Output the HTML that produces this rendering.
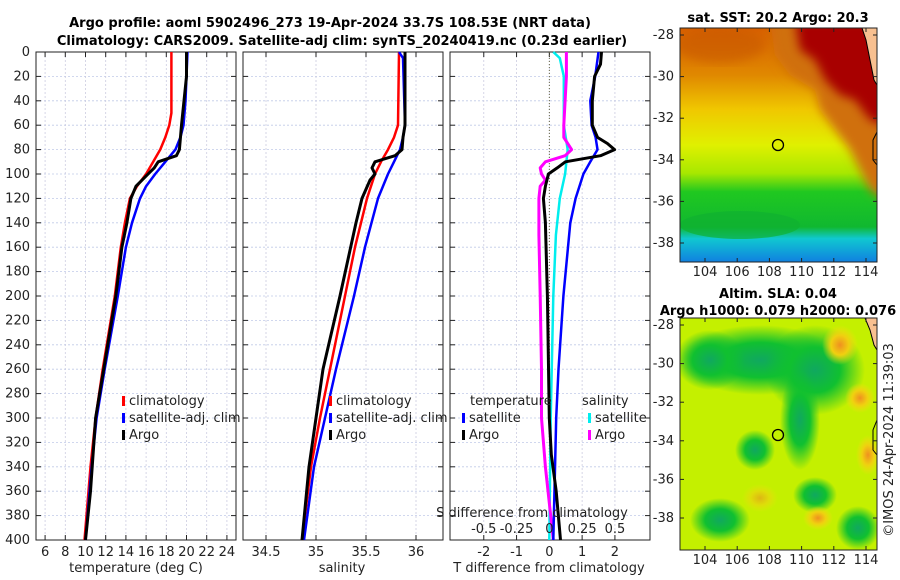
<!DOCTYPE html>
<html><head><meta charset="utf-8">
<style>
body{margin:0;background:#fff;width:900px;height:580px;overflow:hidden;font-family:"DejaVu Sans","Liberation Sans",sans-serif}
svg{display:block}
text{font-family:"DejaVu Sans","Liberation Sans",sans-serif;font-size:13px;fill:#222}
.t{font-weight:bold;font-size:13px;fill:#000}
</style></head><body>
<svg id="s" width="900" height="580">
<defs>
<linearGradient id="sstg" x1="0" y1="0" x2="0" y2="1">
<stop offset="0" stop-color="#d86000"/><stop offset="0.2" stop-color="#e08800"/><stop offset="0.35" stop-color="#f0c800"/><stop offset="0.5" stop-color="#e0f000"/><stop offset="0.62" stop-color="#a8e800"/><stop offset="0.7" stop-color="#20c820"/><stop offset="0.85" stop-color="#10b830"/><stop offset="0.9" stop-color="#10c8d0"/><stop offset="1" stop-color="#1080e0"/></linearGradient>
<radialGradient id="gb"><stop offset="0" stop-color="#10a860"/><stop offset="0.5" stop-color="#10c030"/><stop offset="1" stop-color="#10c030" stop-opacity="0"/></radialGradient>
<radialGradient id="ob"><stop offset="0" stop-color="#f09020"/><stop offset="0.5" stop-color="#f0d010"/><stop offset="1" stop-color="#f0e010" stop-opacity="0"/></radialGradient>
<filter id="bl"><feGaussianBlur stdDeviation="5"/></filter>
<clipPath id="c1"><rect x="680" y="28" width="197" height="234"/></clipPath>
<clipPath id="c2"><rect x="680" y="318" width="197" height="232"/></clipPath>
</defs>
<text class="t" x="330" y="27" text-anchor="middle">Argo profile: aoml 5902496_273 19-Apr-2024 33.7S 108.53E (NRT data)</text>
<text class="t" x="342" y="45" text-anchor="middle">Climatology: CARS2009. Satellite-adj clim: synTS_20240419.nc (0.23d earlier)</text>
<g id="panels"></g>
<g>
<text class="t" x="778" y="22" text-anchor="middle">sat. SST: 20.2 Argo: 20.3</text>
<g clip-path="url(#c1)">
<rect x="680" y="28" width="197" height="234" fill="url(#sstg)"/>
<path d="M770,20 L900,20 L900,210 L870,190 L850,150 L835,130 L820,110 L815,90 L790,75 L775,55 Z" fill="#d07010" filter="url(#bl)"/>
<path d="M795,20 L900,20 L900,130 L870,120 L855,100 L840,95 L825,80 L815,60 L800,50 Z" fill="#a80000" filter="url(#bl)"/>
<ellipse cx="720" cy="45" rx="45" ry="18" fill="#c85800" opacity="0.6" filter="url(#bl)"/>
<ellipse cx="740" cy="225" rx="60" ry="14" fill="#10b030" opacity="0.7"/>
<path d="M862,28 L866,40 L870,60 L874,80 L877,85 L877,28 Z" fill="#f8c090"/>
<path d="M862,28 L866,40 L870,60 L874,80 L877,85" fill="none" stroke="#000"/>
<path d="M877,132 L873,140 L873,160 L877,165" fill="none" stroke="#000"/>
</g>
<rect x="680" y="28" width="197" height="234" fill="none" stroke="#222"/>
<circle cx="778" cy="145" r="5.5" fill="none" stroke="#000" stroke-width="1.3"/>
</g>
<g>
<text class="t" x="778" y="298" text-anchor="middle">Altim. SLA: 0.04</text>
<text class="t" x="778" y="315" text-anchor="middle">Argo h1000: 0.079 h2000: 0.076</text>
<g clip-path="url(#c2)">
<rect x="680" y="318" width="197" height="232" fill="#c4f000"/>
<ellipse cx="760" cy="360" rx="80" ry="35" fill="url(#gb)"/>
<ellipse cx="710" cy="360" rx="35" ry="30" fill="url(#gb)"/>
<ellipse cx="815" cy="370" rx="50" ry="45" fill="url(#gb)"/>
<ellipse cx="800" cy="420" rx="20" ry="50" fill="url(#gb)"/>
<ellipse cx="755" cy="450" rx="20" ry="20" fill="url(#gb)"/>
<ellipse cx="815" cy="495" rx="22" ry="18" fill="url(#gb)"/>
<ellipse cx="720" cy="520" rx="30" ry="22" fill="url(#gb)"/>
<ellipse cx="858" cy="528" rx="22" ry="22" fill="url(#gb)"/>
<ellipse cx="840" cy="345" rx="18" ry="20" fill="url(#ob)"/>
<ellipse cx="860" cy="398" rx="15" ry="15" fill="url(#ob)"/>
<ellipse cx="818" cy="518" rx="15" ry="12" fill="url(#ob)"/>
<ellipse cx="760" cy="498" rx="18" ry="14" fill="url(#ob)" opacity="0.6"/>
<ellipse cx="868" cy="455" rx="12" ry="20" fill="url(#ob)"/>
<path d="M865,318 L870,330 L874,345 L877,350 L877,318 Z" fill="#f8c090"/>
<path d="M865,318 L870,330 L874,345 L877,350" fill="none" stroke="#000"/>
<path d="M877,420 L873,430 L873,450 L877,455" fill="none" stroke="#000"/>
</g>
<rect x="680" y="318" width="197" height="232" fill="none" stroke="#222"/>
<circle cx="778" cy="435" r="5.5" fill="none" stroke="#000" stroke-width="1.3"/>
</g>
<g id="maxes"></g>
<text x="893" y="440" transform="rotate(-90 893 440)" text-anchor="middle">©IMOS 24-Apr-2024 11:39:03</text>
</svg>
<script>
// ---- data ----
const depthTicks=[0,20,40,60,80,100,120,140,160,180,200,220,240,260,280,300,320,340,360,380,400];
const tempTicks=[6,8,10,12,14,16,18,20,22,24];
const salTicks=[34.5,35,35.5,36];
const salTickLabels=['34.5','35','35.5','36'];
const tdTicks=[-2,-1,0,1,2];
const sdTicks=[-0.5,-0.25,0,0.25,0.5];
const sdTickLabels=['-0.5','-0.25','0','0.25','0.5'];
const tClimD=[0,50,60,70,80,90,100,110,120,140,160,200,260,300,340,400];
const tClimV=[18.5,18.5,18.3,17.9,17.4,16.7,16.0,15.1,14.4,13.9,13.5,12.9,11.7,11.0,10.5,9.9];
const tSatD=[0,40,60,70,80,90,100,110,120,140,160,200,260,300,340,400];
const tSatV=[20.1,19.9,19.7,19.4,18.9,17.9,16.9,16.0,15.4,14.6,14.0,13.2,11.9,11.1,10.6,10.0];
const tArgoD=[0,20,60,80,85,90,95,100,110,120,140,160,200,260,300,360,400];
const tArgoV=[20.0,20.0,19.5,19.3,19.0,17.2,16.8,16.2,15.0,14.5,14.1,13.6,13.0,11.8,11.0,10.5,10.0];
const sClimD=[0,60,70,80,90,100,120,160,200,260,300,340,400];
const sClimV=[35.83,35.82,35.78,35.72,35.65,35.59,35.51,35.39,35.29,35.14,35.04,34.95,34.86];
const sSatD=[0,5,60,70,80,90,100,120,160,200,260,300,340,400];
const sSatV=[35.83,35.87,35.89,35.87,35.84,35.78,35.72,35.62,35.49,35.38,35.20,35.09,34.98,34.88];
const sArgoD=[0,60,70,80,85,90,95,100,105,120,140,200,260,300,340,400];
const sArgoV=[35.89,35.89,35.87,35.86,35.79,35.59,35.56,35.59,35.54,35.46,35.40,35.24,35.07,35.00,34.93,34.86];
const dtSatD=[0,20,40,60,70,80,90,100,120,140,200,260,300,400];
const dtSatV=[1.5,1.4,1.25,1.29,1.41,1.47,1.25,1.04,0.8,0.64,0.43,0.28,0.21,0.12];
const dtArgoD=[0,10,20,40,60,70,75,80,85,90,95,100,110,120,140,200,300,330,360,400];
const dtArgoV=[1.59,1.56,1.38,1.31,1.31,1.47,1.77,1.99,1.56,0.49,0.24,-0.03,-0.12,-0.18,-0.12,-0.06,0,0.06,0.21,0.34];
const dsSatD=[0,5,20,60,80,100,120,150,200,300,400];
const dsSatV=[0.03,0.08,0.11,0.11,0.14,0.12,0.08,0.05,0.03,0.01,0];
const dsArgoD=[0,20,60,70,80,85,90,95,100,105,110,120,150,200,260,300,340,400];
const dsArgoV=[0.13,0.13,0.11,0.11,0.17,0.12,-0.03,-0.07,-0.06,-0.03,-0.07,-0.08,-0.08,-0.07,-0.06,-0.06,-0.03,0.03];
const latTicks=[-28,-30,-32,-34,-36,-38];
const lonTicks=[104,106,108,110,112,114];

const NS='http://www.w3.org/2000/svg';
const root=document.getElementById('panels');
function el(tag,attrs,parent,txt){const e=document.createElementNS(NS,tag);for(const k in attrs)e.setAttribute(k,attrs[k]);if(txt!==undefined)e.textContent=txt;(parent||root).appendChild(e);return e;}
const Y0=52,Y1=540;
const yD=d=>Y0+d*(Y1-Y0)/400;
const P=[{x0:36,lo:5.1,hi:24.9},{x0:243,lo:34.27,hi:36.27},{x0:450,lo:-3.03,hi:3.07}];
function xf(p){return v=>p.x0+(v-p.lo)*200/(p.hi-p.lo);}
const xT=xf(P[0]),xS=xf(P[1]),xDT=xf(P[2]);
const xDS=v=>xDT(v*4);

function panel(idx,xs,ticks,labels,name){
  const p=P[idx];const g=el('g',{});
  
  
  depthTicks.forEach(d=>{el('line',{x1:p.x0,x2:p.x0+200,y1:yD(d),y2:yD(d),stroke:'#c0cae8','stroke-dasharray':'2,2','stroke-width':0.8},g);});
  ticks.forEach((t,i)=>{const x=xs(t);el('line',{x1:x,x2:x,y1:Y0,y2:Y1,stroke:'#cccce0','stroke-dasharray':'2,2','stroke-width':0.8},g);
    el('line',{x1:x,x2:x,y1:Y1,y2:Y1-5,stroke:'#222'},g);el('line',{x1:x,x2:x,y1:Y0,y2:Y0+5,stroke:'#222'},g);
    if(labels){const tx=el('text',{x:x,y:556,'text-anchor':'middle'},g,labels[i]);
    
    }});
  depthTicks.forEach(d=>{el('line',{x1:p.x0,x2:p.x0+5,y1:yD(d),y2:yD(d),stroke:'#222'},g);el('line',{x1:p.x0+200,x2:p.x0+195,y1:yD(d),y2:yD(d),stroke:'#222'},g);});
  const fr=el('rect',{x:p.x0,y:Y0,width:200,height:Y1-Y0,fill:'none',stroke:'#222'},g);
  
  
  return g;
}
function line(D,V,xs,col,w,name,g){
  const pts=D.map((d,i)=>xs(V[i]).toFixed(1)+','+yD(d).toFixed(1)).join(' ');
  const pl=el('polyline',{points:pts,fill:'none',stroke:col,'stroke-width':w,'stroke-linejoin':'round'},g);
  
  
}
depthTicks.forEach(d=>{const t=el('text',{x:30,y:yD(d)+4,'text-anchor':'end'},root,String(d));
  
  });
const g1=panel(0,xT,tempTicks,tempTicks.map(String),'temperature-panel');
line(tClimD,tClimV,xT,'#f00',2.5,'temp-climatology-line',g1);
line(tSatD,tSatV,xT,'#00f',2.5,'temp-satellite-line',g1);
line(tArgoD,tArgoV,xT,'#000',3,'temp-argo-line',g1);
const g2=panel(1,xS,salTicks,salTickLabels,'salinity-panel');
line(sClimD,sClimV,xS,'#f00',2.5,'sal-climatology-line',g2);
line(sSatD,sSatV,xS,'#00f',2.5,'sal-satellite-line',g2);
line(sArgoD,sArgoV,xS,'#000',3,'sal-argo-line',g2);
const g3=panel(2,xDT,tdTicks,tdTicks.map(String),'difference-panel');
el('line',{x1:xDT(0),x2:xDT(0),y1:Y0,y2:Y1,stroke:'#664','stroke-dasharray':'1,2'},g3);
line(dsSatD,dsSatV,xDS,'#0ee',2.5,'sdiff-satellite-line',g3);
line(dsArgoD,dsArgoV,xDS,'#f0f',3,'sdiff-argo-line',g3);
line(dtSatD,dtSatV,xDT,'#00f',2.5,'tdiff-satellite-line',g3);
line(dtArgoD,dtArgoV,xDT,'#000',3,'tdiff-argo-line',g3);
sdTicks.forEach((v,i)=>{const t=el('text',{x:xDS(v),y:533,'text-anchor':'middle'},g3,sdTickLabels[i]);
  
  });
function txt(x,y,s,name,anchor){const t=el('text',{x:x,y:y,'text-anchor':anchor||'start','font-size':'13'},root,s);
  
  return t;}
txt(136,572,'temperature (deg C)','x-axis-title-temperature','middle');
txt(342,572,'salinity','x-axis-title-salinity','middle');
txt(549,572,'T difference from climatology','x-axis-title-tdiff','middle');
txt(532,517,'S difference from climatology','s-diff-axis-title','middle');
function leg(x,y,col,s,name){el('rect',{x:x,y:y-9,width:3,height:10,fill:col});txt(x+7,y,s,name);}
leg(122,405,'#f00','climatology','legend-climatology');
leg(122,422,'#00f','satellite-adj. clim','legend-satellite-adj');
leg(122,439,'#000','Argo','legend-argo');
leg(329,405,'#f00','climatology','legend2-climatology');
leg(329,422,'#00f','satellite-adj. clim','legend2-satellite-adj');
leg(329,439,'#000','Argo','legend2-argo');
txt(470,405,'temperature','legend-temperature-header');
leg(462,422,'#00f','satellite','legend-t-satellite');
leg(462,439,'#000','Argo','legend-t-argo');
txt(582,405,'salinity','legend-salinity-header');
leg(588,422,'#0ee','satellite','legend-s-satellite');
leg(588,439,'#f0f','Argo','legend-s-argo');
const ma=document.getElementById('maxes');
function mapAxes(yTop,yBot,latY,latStep,name){
  latTicks.forEach(l=>{const y=latY+(-28-l)*latStep;
    const t=el('text',{x:674,y:y+4,'text-anchor':'end'},ma,String(l));
    
    
    el('line',{x1:680,x2:684,y1:y,y2:y,stroke:'#222'},ma);el('line',{x1:877,x2:873,y1:y,y2:y,stroke:'#222'},ma);});
  lonTicks.forEach(l=>{const x=705+(l-104)*16.1;
    const t=el('text',{x:x,y:yBot+14,'text-anchor':'middle'},ma,String(l));
    
    
    el('line',{x1:x,x2:x,y1:yBot,y2:yBot-4,stroke:'#222'},ma);el('line',{x1:x,x2:x,y1:yTop,y2:yTop+4,stroke:'#222'},ma);});
}
mapAxes(28,262,35,20.8,'sst-map');
mapAxes(318,550,325,19.3,'sla-map');
</script>
</body></html>
